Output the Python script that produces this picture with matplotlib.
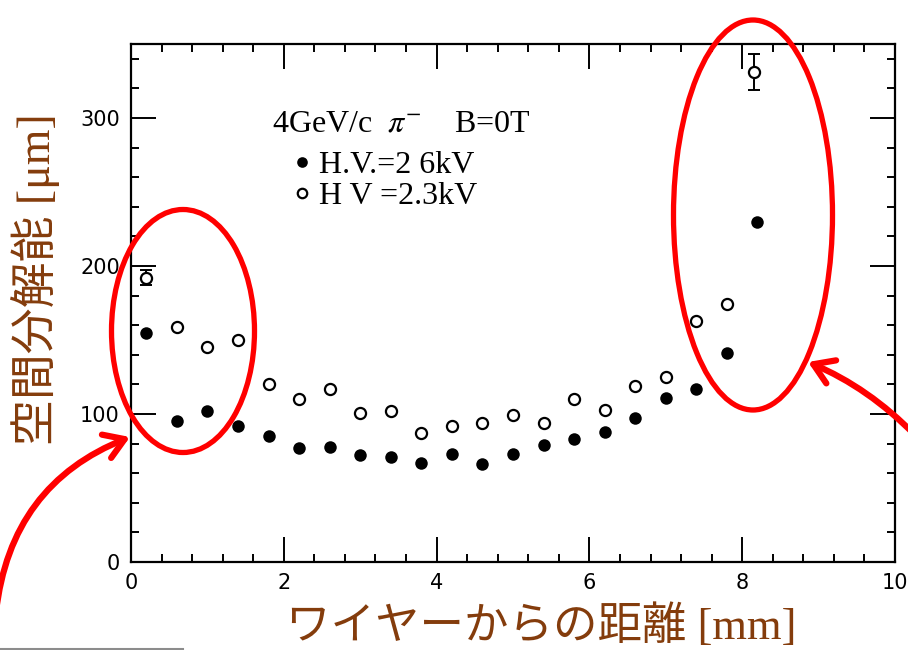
import matplotlib
matplotlib.use("Agg")
import matplotlib.pyplot as plt
from matplotlib.patches import Ellipse, FancyArrowPatch
from matplotlib.lines import Line2D
from matplotlib.transforms import Affine2D
from matplotlib.ticker import MultipleLocator

# ---- data ----
dist_hv26 = [0.2, 0.6, 1.0, 1.4, 1.8, 2.2, 2.6, 3.0, 3.4, 3.8, 4.2, 4.6, 5.0,
             5.4, 5.8, 6.2, 6.6, 7.0, 7.4, 7.8, 8.2]
res_hv26 = [155, 95, 102, 92, 85, 77, 78, 72, 71, 67, 73, 66, 73,
            79, 83, 88, 97, 111, 117, 141, 230]

dist_hv23 = [0.2, 0.6, 1.0, 1.4, 1.8, 2.2, 2.6, 3.0, 3.4, 3.8, 4.2, 4.6, 5.0,
             5.4, 5.8, 6.2, 6.6, 7.0, 7.4, 7.8, 8.15]
res_hv23 = [192, 159, 145, 150, 120, 110, 117, 101, 102, 87, 92, 94, 99,
            94, 110, 103, 119, 125, 163, 174, 331]

err_dist = [0.2, 8.15]
err_res = [192, 331]
err_size = [5, 12]

x_ticks = [0, 2, 4, 6, 8, 10]
y_ticks = [0, 100, 200, 300]

label_hv26 = "H.V.=2 6kV"
label_hv23 = "H V =2.3kV"
condition = r"4GeV/c  $\pi^{-}$    B=0T"
xlabel = "ワイヤーからの距離 [mm]"
ylabel = "空間分解能 [μm]"

# ---- figure ----
W, H = 908, 650
plt.rcParams['mathtext.fontset'] = 'stix'
fig = plt.figure(figsize=(W / 100, H / 100), dpi=100)
px = Affine2D().scale(1 / W, -1 / H).translate(0, 1) + fig.transFigure

ax = fig.add_axes([131 / W, 1 - 562 / H, (895 - 131) / W, (562 - 44) / H])
ax.set_xlim(0, 10)
ax.set_ylim(0, 350)

h26, = ax.plot(dist_hv26, res_hv26, 'o', color='black', ms=9, mew=0, zorder=3)
h23, = ax.plot(dist_hv23, res_hv23, 'o', mfc='white', mec='black', ms=8,
               mew=1.6, zorder=3)
ax.errorbar(err_dist, err_res, yerr=err_size, fmt='none', ecolor='black',
            elinewidth=1.4, capsize=4.5, capthick=1.4, zorder=2)

ax.set_xticks(x_ticks)
ax.set_yticks(y_ticks)
ax.xaxis.set_minor_locator(MultipleLocator(0.4))
ax.yaxis.set_minor_locator(MultipleLocator(20))
ax.tick_params(which='both', direction='in', top=True, right=True,
               width=1.4, colors='black')
ax.tick_params(which='major', length=18, pad=8)
ax.tick_params(which='minor', length=6)
ax.tick_params(axis='x', labelsize=15)
ax.tick_params(axis='y', labelsize=15)
for lab in ax.get_xticklabels() + ax.get_yticklabels():
    lab.set_family('DejaVu Sans')
for s in ax.spines.values():
    s.set_linewidth(1.6)

# condition text and legend
fig.text(272, 131, condition, transform=px, fontsize=23,
         family='Liberation Serif', va='baseline', ha='left')
leg = ax.legend([h26, h23], [label_hv26, label_hv23],
                loc='upper left', bbox_to_anchor=(289, 151),
                bbox_transform=px, frameon=False, markerscale=0.85,
                handlelength=0.8, handletextpad=0.15, labelspacing=0.05,
                borderpad=0, borderaxespad=0,
                prop={'family': 'Liberation Serif', 'size': 23})

# axis labels (slide annotations)
brown = '#843C0C'
fam = ['Liberation Serif', 'Noto Sans CJK JP']
fig.text(541, 626, xlabel, transform=px, fontsize=32, color=brown,
         family=fam, ha='center', va='center')
fig.text(36, 279, ylabel, transform=px, fontsize=33, color=brown,
         family=fam, ha='center', va='center', rotation=90)

# red highlight ellipses and arrows
red = '#FF0000'
for (cx, cy, w, h) in [(183, 331, 143, 243), (753, 215, 159, 390)]:
    fig.add_artist(Ellipse((cx, cy), w, h, transform=px, fill=False,
                           ec=red, lw=3.8, zorder=5))
fig.add_artist(FancyArrowPatch((-4, 612), (130, 437), transform=px,
                               connectionstyle='arc3,rad=-0.3',
                               arrowstyle='->,head_length=14,head_width=9',
                               color=red, lw=4.5, shrinkA=0, shrinkB=0,
                               capstyle='round', joinstyle='round', zorder=6))
fig.add_artist(FancyArrowPatch((915, 435), (808, 362), transform=px,
                               connectionstyle='arc3,rad=0.1',
                               arrowstyle='->,head_length=14,head_width=9',
                               color=red, lw=4.5, shrinkA=0, shrinkB=0,
                               capstyle='round', joinstyle='round', zorder=6))

# thin grey rule at the bottom-left edge of the slide
fig.add_artist(Line2D([0, 183], [649, 649], transform=px, color='#8C8C8C',
                      lw=1.5))

fig.savefig('out.png', dpi=100)
